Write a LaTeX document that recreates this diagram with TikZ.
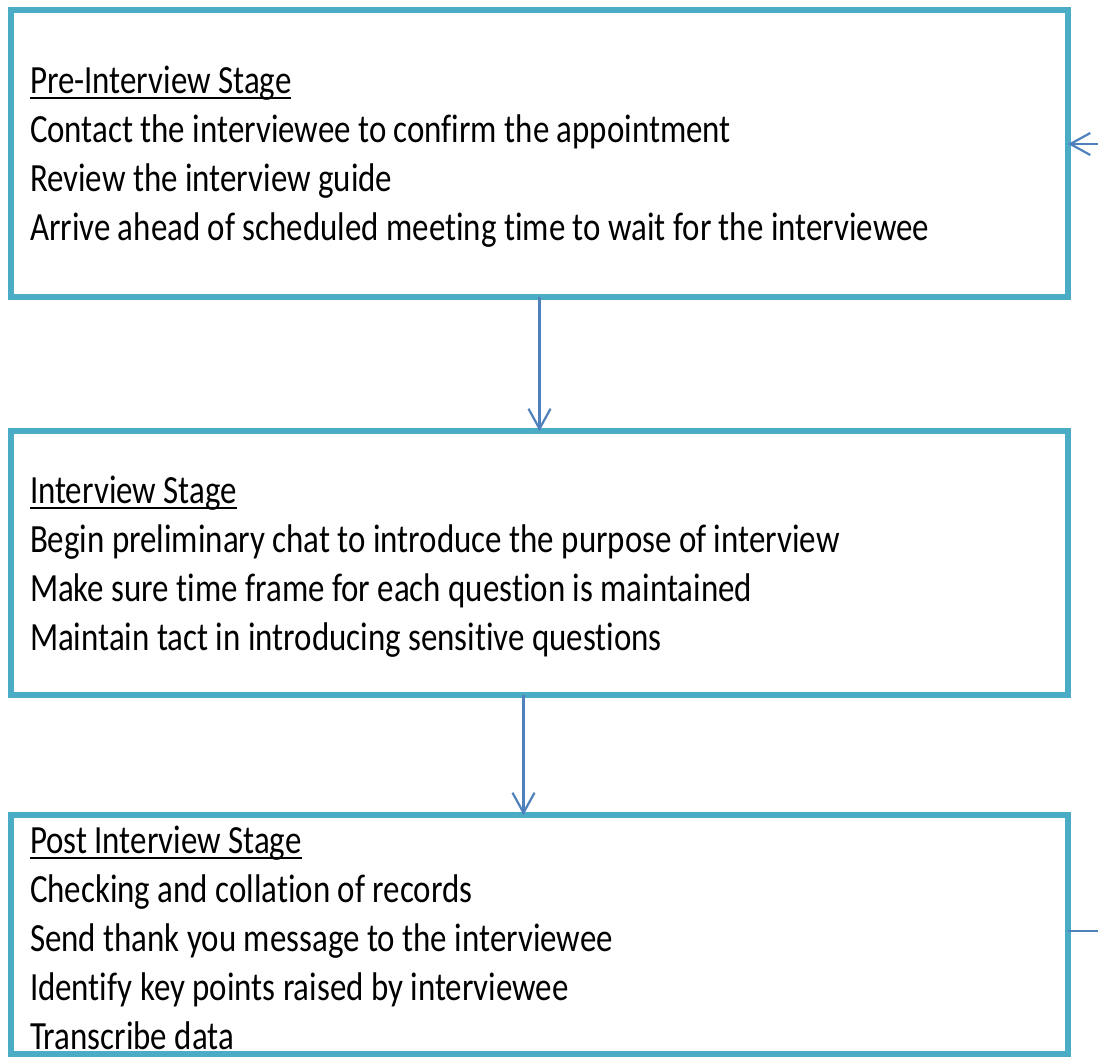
\documentclass[tikz,border=0pt]{standalone}
\usepackage{fontspec}
\setmainfont{Carlito}[FakeStretch=0.823,Ligatures={NoCommon}]
\usetikzlibrary{arrows.meta}
\definecolor{framecol}{HTML}{4BACC6}
\definecolor{linkcol}{HTML}{4F81BD}
% underlined stage heading (rule sits just below the baseline)
\newcommand\stagehead[1]{\setbox0=\hbox{#1}\rlap{\vrule height -1.9pt depth 3.1pt width \wd0}\box0}
% stack of lines whose reference point is the first baseline
\newcommand\stagelines[1]{\vtop{\baselineskip=24.5pt\lineskiplimit=-10pt #1}}
\begin{document}
\begin{tikzpicture}[x=0.5pt,y=-0.5pt,
  stagebox/.style={draw=framecol,line width=3pt,rectangle,inner sep=0pt,outer sep=0pt,
    anchor=north west,minimum width=528.5pt},
  stagetext/.style={anchor=base west,inner sep=0pt,outer sep=0pt,
    font=\fontsize{20}{24.5}\selectfont},
  link/.style={draw=linkcol,line width=1.1pt,-{Straight Barb[length=10pt,width=11pt,line width=1.1pt]}},
  plain link/.style={draw=linkcol,line width=1.1pt}]
\useasboundingbox (0,0) rectangle (1098,1057);
\fill[white] (0,0) rectangle (1098,1057);

% the three stage frames
\node[stagebox,minimum height=143.5pt] (pre)  at (11,10)  {};
\node[stagebox,minimum height=132pt]   (mid)  at (11,431) {};
\node[stagebox,minimum height=119.5pt] (post) at (11,815) {};

% stage contents
\node[stagetext] (pretext) at (30,93) {\stagelines{%
  \hbox{\stagehead{Pre-Interview Stage}}
  \hbox{Contact the interviewee to confirm the appointment}
  \hbox{Review the interview guide}
  \hbox{Arrive ahead of scheduled meeting time to wait for the interviewee}}};
\node[stagetext] (midtext) at (30,503) {\stagelines{%
  \hbox{\stagehead{Interview Stage}}
  \hbox{Begin preliminary chat to introduce the purpose of interview}
  \hbox{Make sure time frame for each question is maintained}
  \hbox{Maintain tact in introducing sensitive questions}}};
\node[stagetext] (posttext) at (30,853) {\stagelines{%
  \hbox{\stagehead{Post Interview Stage}}
  \hbox{Checking and collation of records}
  \hbox{Send thank you message to the interviewee}
  \hbox{Identify key points raised by interviewee}
  \hbox{Transcribe data}}};

% flow between stages
\draw[link] (pre.south) -- (mid.north);
\draw[link] ([xshift=-8pt]mid.south) -- ([xshift=-8pt]post.north);

% feedback loop leaving and re-entering on the right
\coordinate (loopout) at (1098,931);
\coordinate (loopin)  at (1098,144);
\draw[plain link] (post.east |- loopout) -- (loopout);
\draw[link] (loopin) -- (pre.east |- loopin);
\end{tikzpicture}
\end{document}
